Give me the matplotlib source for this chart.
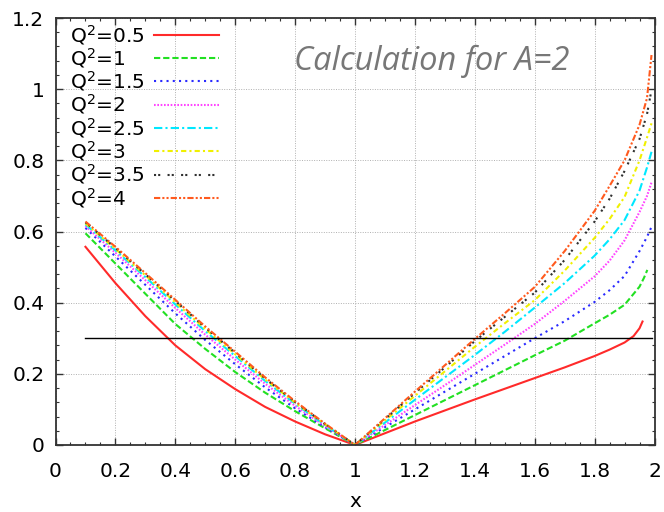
import numpy as np
import matplotlib
matplotlib.use("Agg")
import matplotlib.pyplot as plt
from matplotlib.ticker import MultipleLocator

plt.rcParams['font.family'] = ['DejaVu Sans']

# x grid for the two branches of every curve
x_left = [0.1, 0.2, 0.3, 0.4, 0.5, 0.6, 0.7, 0.8, 0.9, 1.0]
x_right = [1.1, 1.2, 1.3, 1.4, 1.5, 1.6, 1.7, 1.8, 1.85, 1.9]

q2_labels = ["0.5", "1", "1.5", "2", "2.5", "3", "3.5", "4"]

y_left = [
    [0.557, 0.455, 0.362, 0.28, 0.213, 0.157, 0.107, 0.066, 0.03, 0.0],
    [0.595, 0.51, 0.425, 0.34, 0.27, 0.205, 0.147, 0.095, 0.047, 0.0],
    [0.61, 0.53, 0.45, 0.37, 0.295, 0.227, 0.162, 0.103, 0.05, 0.0],
    [0.615, 0.54, 0.463, 0.385, 0.31, 0.24, 0.172, 0.11, 0.053, 0.0],
    [0.62, 0.547, 0.472, 0.395, 0.32, 0.25, 0.18, 0.116, 0.056, 0.0],
    [0.623, 0.551, 0.477, 0.401, 0.326, 0.255, 0.184, 0.119, 0.058, 0.0],
    [0.626, 0.554, 0.48, 0.405, 0.33, 0.259, 0.187, 0.121, 0.059, 0.0],
    [0.628, 0.557, 0.483, 0.408, 0.333, 0.262, 0.19, 0.123, 0.06, 0.0],
]
y_right = [
    [0.033, 0.066, 0.097, 0.128, 0.158, 0.188, 0.218, 0.25, 0.268, 0.288],
    [0.042, 0.084, 0.126, 0.168, 0.21, 0.252, 0.293, 0.342, 0.366, 0.394],
    [0.05, 0.1, 0.15, 0.2, 0.25, 0.3, 0.348, 0.402, 0.435, 0.475],
    [0.056, 0.112, 0.168, 0.225, 0.282, 0.34, 0.405, 0.474, 0.518, 0.575],
    [0.063, 0.127, 0.19, 0.253, 0.318, 0.386, 0.455, 0.532, 0.578, 0.632],
    [0.069, 0.138, 0.207, 0.276, 0.342, 0.407, 0.49, 0.582, 0.635, 0.697],
    [0.073, 0.146, 0.218, 0.292, 0.36, 0.428, 0.52, 0.628, 0.692, 0.77],
    [0.075, 0.15, 0.224, 0.298, 0.37, 0.444, 0.545, 0.658, 0.728, 0.80],
]
# steep ends of the curves close to x=2
x_tail = [
    [1.93, 1.95, 1.96],
    [1.95, 1.965, 1.976],
    [1.95, 1.975, 1.99],
    [1.95, 1.975, 1.99],
    [1.95, 1.975, 1.99],
    [1.95, 1.975, 1.99],
    [1.95, 1.975, 1.99],
    [1.95, 1.975, 1.99],
]
y_tail = [
    [0.306, 0.328, 0.347],
    [0.445, 0.47, 0.492],
    [0.545, 0.585, 0.613],
    [0.655, 0.70, 0.738],
    [0.715, 0.78, 0.824],
    [0.80, 0.864, 0.904],
    [0.86, 0.93, 0.998],
    [0.90, 0.975, 1.096],
]

cut_level = 0.3
cut_x = [0.1, 1.99]

colors = ["#ff2a2a", "#22e022", "#2a2aff", "#ff44ff", "#00e8ff",
          "#f0f000", "#303030", "#ff5a1e"]
dashes = [None, (3, 1.4), (1, 2), (0.8, 0.8), (4, 1.5, 1, 1.5),
          (2.5, 1.5, 1, 1.5), (1, 1, 1, 3.5), (3, 1, 1, 1, 1, 1)]

fig, ax = plt.subplots(figsize=(6.64, 5.12), dpi=100)
fig.subplots_adjust(left=0.0836, right=0.9857, bottom=0.1309, top=0.9648)

for i in range(len(q2_labels)):
    xs = x_left + x_right + x_tail[i]
    ys = y_left[i] + y_right[i] + y_tail[i]
    line, = ax.plot(xs, ys, color=colors[i], lw=1.5,
                    label="Q$^2$=" + q2_labels[i])
    if dashes[i] is not None:
        line.set_dashes(dashes[i])

ax.plot(cut_x, [cut_level, cut_level], color="black", lw=1.0)

ax.set_xlim(0, 2)
ax.set_ylim(0, 1.2)
xt = np.round(np.arange(0, 2.01, 0.2), 1)
yt = np.round(np.arange(0, 1.21, 0.2), 1)
ax.set_xticks(xt)
ax.set_xticklabels(["%g" % v for v in xt])
ax.set_yticks(yt)
ax.set_yticklabels(["%g" % v for v in yt])
ax.xaxis.set_minor_locator(MultipleLocator(0.05))
ax.yaxis.set_minor_locator(MultipleLocator(0.04))
ax.tick_params(which="both", direction="in", top=True, right=True,
               color="#333333", labelsize=14.5)
ax.tick_params(which="major", length=5, width=1)
ax.tick_params(which="minor", length=2.5, width=0.8)
ax.tick_params(axis="x", pad=12)
ax.tick_params(axis="y", pad=8)
for s in ax.spines.values():
    s.set_color("#333333")
    s.set_linewidth(1.3)

ax.grid(True, which="major", color="#b0b0b0", ls=(0, (1, 1.5)), lw=0.7)
ax.set_xlabel("x", fontsize=14.5, labelpad=8)

leg = ax.legend(loc="upper left", markerfirst=False, frameon=False,
                fontsize=14.5, handlelength=3.2, handletextpad=0.5,
                labelspacing=-0.03, borderaxespad=0.0,
                bbox_to_anchor=(0.01, 1.008))

# legend rows are right-aligned; push the labels left so they start together
fig.canvas.draw()
renderer = fig.canvas.get_renderer()
texts = leg.get_texts()
widths = [t.get_window_extent(renderer).width for t in texts]
for t, w in zip(texts, widths):
    t.set_x(t.get_position()[0] - (max(widths) - w))

ax.text(0.797, 1.055, "Calculation for A=2", fontsize=23.5, style="italic",
        family="Open Sans", color="#777777")

fig.savefig("out.png", dpi=100)
